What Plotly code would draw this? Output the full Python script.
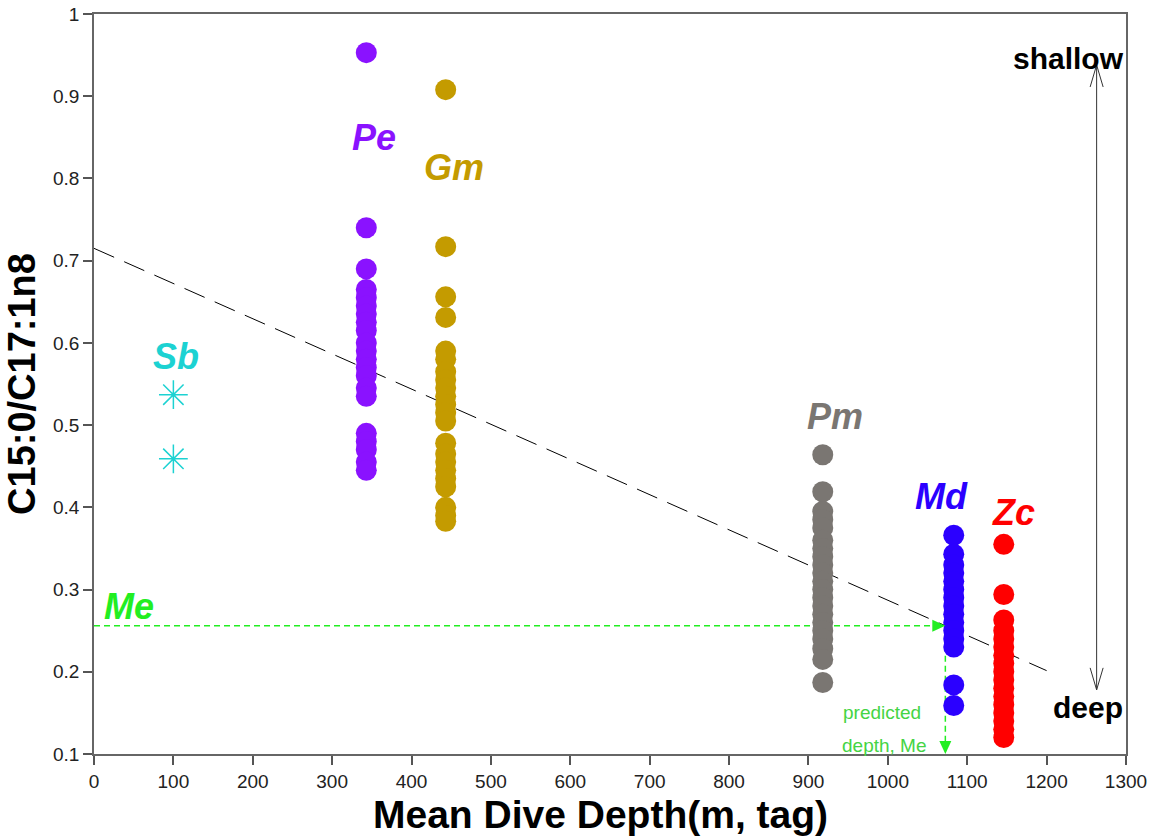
import plotly.graph_objects as go

# Mean dive depth (m, from tags) for each species
depth_pe = 343
depth_gm = 443
depth_pm = 918
depth_md = 1083
depth_zc = 1146
depth_sb = 100

# C15:0 / C17:1n8 ratios per individual
ratio_pe = [0.953, 0.740, 0.690, 0.665, 0.655, 0.645, 0.635, 0.625, 0.615, 0.600,
            0.590, 0.580, 0.570, 0.560, 0.545, 0.535, 0.490, 0.480, 0.470, 0.455, 0.445]
ratio_gm = [0.908, 0.717, 0.656, 0.631, 0.590, 0.580, 0.565, 0.555, 0.545, 0.535,
            0.525, 0.515, 0.505, 0.478, 0.465, 0.455, 0.445, 0.435, 0.425, 0.400,
            0.390, 0.383]
ratio_pm = [0.464, 0.419, 0.395, 0.385, 0.375, 0.360, 0.350, 0.340, 0.330, 0.320,
            0.310, 0.300, 0.290, 0.280, 0.270, 0.260, 0.250, 0.240, 0.228, 0.215, 0.187]
ratio_md = [0.366, 0.343, 0.330, 0.320, 0.310, 0.300, 0.290, 0.280, 0.270, 0.260,
            0.250, 0.240, 0.230, 0.184, 0.159]
ratio_zc = [0.355, 0.294, 0.263, 0.250, 0.240, 0.230, 0.220, 0.210, 0.200, 0.190,
            0.180, 0.170, 0.160, 0.150, 0.140, 0.130, 0.120]
ratio_sb = [0.537, 0.459]

# Mean ratio for Me, projected onto the regression
ratio_me = 0.256

# Linear fit of ratio against depth
fit_intercept = 0.715
fit_slope = -0.000428
fit_x = [0, 1200]

x_ticks = list(range(0, 1301, 100))
y_ticks = [0.1, 0.2, 0.3, 0.4, 0.5, 0.6, 0.7, 0.8, 0.9, 1]

FONT = "Arial, 'Liberation Sans', sans-serif"
C_PE = "#8A12FF"
C_GM = "#C49B00"
C_PM = "#7A7672"
C_MD = "#2B00FF"
C_ZC = "#FF0000"
C_SB = "#1CD2D2"
C_ME = "#22EE22"
C_ME_TXT = "#44D444"

fig = go.Figure()

# regression line
fig.add_trace(go.Scatter(
    x=fit_x, y=[fit_intercept + fit_slope * v for v in fit_x],
    mode="lines", line=dict(color="black", width=1, dash="22px,11px"),
    hoverinfo="skip"))

# predicted depth for Me
pred_depth = (ratio_me - fit_intercept) / fit_slope
fig.add_trace(go.Scatter(
    x=[0, pred_depth], y=[ratio_me, ratio_me], mode="lines",
    line=dict(color=C_ME, width=1.5, dash="6px,4px"), hoverinfo="skip"))
fig.add_trace(go.Scatter(
    x=[pred_depth, pred_depth], y=[ratio_me, 0.1], mode="lines",
    line=dict(color=C_ME, width=1.5, dash="6px,4px"), hoverinfo="skip"))

for depth, vals, col in [(depth_pe, ratio_pe, C_PE), (depth_gm, ratio_gm, C_GM),
                         (depth_pm, ratio_pm, C_PM), (depth_md, ratio_md, C_MD),
                         (depth_zc, ratio_zc, C_ZC)]:
    fig.add_trace(go.Scatter(
        x=[depth] * len(vals), y=vals, mode="markers",
        marker=dict(size=21, color=col, line=dict(width=0))))

fig.add_trace(go.Scatter(
    x=[depth_sb] * len(ratio_sb), y=ratio_sb, mode="markers",
    marker=dict(symbol="asterisk-open", size=24, color=C_SB,
                line=dict(color=C_SB, width=1.5))))

# pixel-to-data helpers for arrowheads (plot area 1032 x 740 px)
PX_X = 1300 / 1032
PX_Y = 0.9 / 740

shapes = []
# green filled arrowheads
shapes.append(dict(
    type="path", xref="x", yref="y", fillcolor=C_ME, line=dict(width=0),
    path=(f"M {pred_depth} {ratio_me} L {pred_depth - 13 * PX_X} {ratio_me + 6 * PX_Y} "
          f"L {pred_depth - 13 * PX_X} {ratio_me - 6 * PX_Y} Z")))
shapes.append(dict(
    type="path", xref="x", yref="y", fillcolor=C_ME, line=dict(width=0),
    path=(f"M {pred_depth} 0.1 L {pred_depth - 6 * PX_X} {0.1 + 13 * PX_Y} "
          f"L {pred_depth + 6 * PX_X} {0.1 + 13 * PX_Y} Z")))

# shallow / deep double arrow
ax_x = 1263
top_y, bot_y = 0.938, 0.178
shapes.append(dict(type="line", xref="x", yref="y", x0=ax_x, x1=ax_x,
                   y0=bot_y, y1=top_y, line=dict(color="#333", width=1)))
shapes.append(dict(
    type="path", xref="x", yref="y", line=dict(color="#333", width=1),
    path=(f"M {ax_x - 6.5 * PX_X} {top_y - 22 * PX_Y} L {ax_x} {top_y} "
          f"L {ax_x + 6.5 * PX_X} {top_y - 22 * PX_Y}")))
shapes.append(dict(
    type="path", xref="x", yref="y", line=dict(color="#333", width=1),
    path=(f"M {ax_x - 6.5 * PX_X} {bot_y + 22 * PX_Y} L {ax_x} {bot_y} "
          f"L {ax_x + 6.5 * PX_X} {bot_y + 22 * PX_Y}")))

def label(text, x, y, color, size=36, bold=True, italic=True):
    t = text
    if italic:
        t = f"<i>{t}</i>"
    if bold:
        t = f"<b>{t}</b>"
    return dict(x=x, y=y, xref="x", yref="y", text=t, showarrow=False,
                font=dict(family=FONT, size=size, color=color),
                xanchor="center", yanchor="middle")

annotations = [
    label("Pe", 353, 0.850, C_PE),
    label("Gm", 453, 0.813, C_GM),
    label("Sb", 103, 0.583, C_SB),
    label("Pm", 933, 0.511, C_PM),
    label("Md", 1068, 0.413, C_MD),
    label("Zc", 1158, 0.394, C_ZC),
    label("Me", 44, 0.279, C_ME),
    label("shallow", 1227, 0.946, "black", size=30, italic=False),
    label("deep", 1252, 0.156, "black", size=30, italic=False),
    label("predicted", 993, 0.151, C_ME_TXT, size=19, bold=False, italic=False),
    label("depth, Me", 996, 0.110, C_ME_TXT, size=19, bold=False, italic=False),
    # x-axis title, set slightly left of the plot centre
    dict(x=0.491, y=-0.0824, xref="paper", yref="paper", showarrow=False,
         text="<b>Mean Dive Depth(m, tag)</b>", xanchor="center", yanchor="middle",
         font=dict(family=FONT, size=39, color="black")),
]

axis_common = dict(
    showgrid=False, zeroline=False, showline=True, linecolor="#666", linewidth=1.5,
    mirror=True, ticks="outside", ticklen=9, tickwidth=1.5, tickcolor="#555",
    automargin=False,
    tickfont=dict(family=FONT, size=19, color="#222"))

fig.update_layout(
    width=1149, height=839,
    margin=dict(l=94, r=23, t=14, b=85),
    paper_bgcolor="white", plot_bgcolor="white",
    showlegend=False,
    shapes=shapes, annotations=annotations,
    xaxis=dict(range=[0, 1300], tickvals=x_ticks, **axis_common),
    yaxis=dict(range=[0.1, 1], tickvals=y_ticks,
               title=dict(text="<b>C15:0/C17:1n8</b>", standoff=6,
                          font=dict(family=FONT, size=38, color="black")),
               **axis_common),
)

fig.write_html("out.html")
